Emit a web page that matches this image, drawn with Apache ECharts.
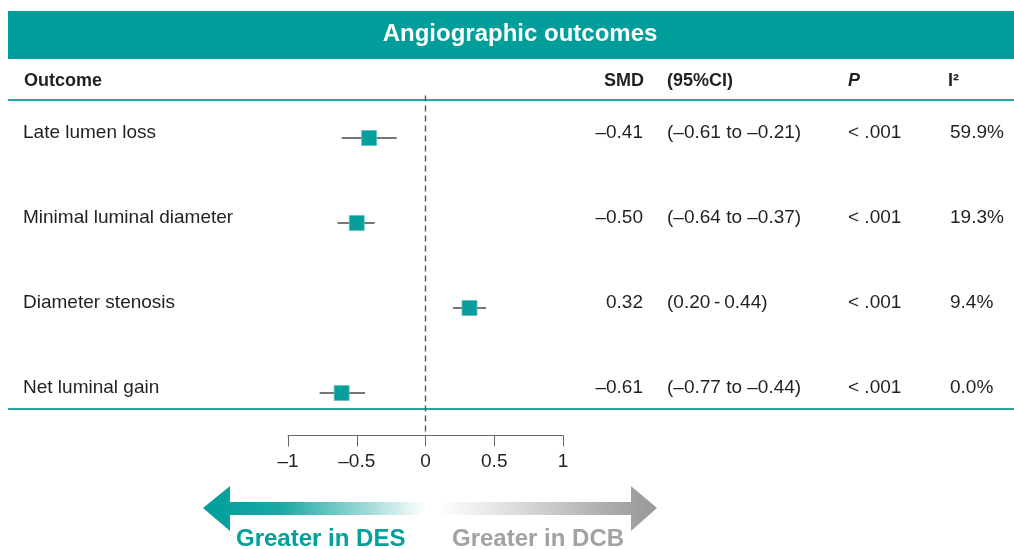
<!DOCTYPE html>
<html>
<head>
<meta charset="utf-8">
<script src="https://cdn.jsdelivr.net/npm/echarts@6/dist/echarts.min.js"></script>
<style>
  html, body { margin: 0; padding: 0; background: #fff; }
  #chart { width: 1014px; height: 549px; }
</style>
</head>
<body>
<div id="chart"></div>
<script>
// data
var outcomes = ['Late lumen loss', 'Minimal luminal diameter', 'Diameter stenosis', 'Net luminal gain'];
var smd = [-0.41, -0.50, 0.32, -0.61];
var ciLow = [-0.61, -0.64, 0.20, -0.77];
var ciHigh = [-0.21, -0.37, 0.44, -0.44];
var pValues = ['< .001', '< .001', '< .001', '< .001'];
var iSquared = ['59.9%', '19.3%', '9.4%', '0.0%'];

var TEAL = '#009e9a';
var FONT = '"Liberation Sans", Arial, Helvetica, sans-serif';

// en dash for negatives, like the printed table
var fmt = function(v, d){
	var s = Math.abs(v).toFixed(d);
	return v < 0 ? '\u2013' + s : s;
};
var ciText = function(i){
	if( ciLow[i] < 0 ){
		return '(' + fmt(ciLow[i], 2) + ' to ' + fmt(ciHigh[i], 2) + ')';
	}
	return '(' + fmt(ciLow[i], 2) + '\u2009-\u2009' + fmt(ciHigh[i], 2) + ')';
};

var chart = echarts.init(document.getElementById('chart'), null, {renderer: 'canvas'});

var txt = function(x, y, text, align, font, fill){
	return {type: 'text', x: x, y: y, style: {text: text, align: align, verticalAlign: 'middle', font: font, fill: fill || '#231f20'}};
};

var option = {
	backgroundColor: '#fff',
	animation: false,
	grid: {left: 288, right: 451, top: 95.5, height: 340},
	xAxis: {
		type: 'value', min: -1, max: 1, interval: 0.5,
		splitLine: {show: false},
		axisLine: {show: true, onZero: false, lineStyle: {color: '#666', width: 1}},
		axisTick: {show: true, length: 11, lineStyle: {color: '#666', width: 1}},
		axisLabel: {
			margin: 17, color: '#231f20', fontSize: 19, fontFamily: FONT,
			formatter: function(v){ return v === 0 ? '0' : fmt(v, Math.abs(v) === 1 ? 0 : 1); }
		}
	},
	yAxis: {type: 'category', inverse: true, data: outcomes, show: false},
	graphic: [
		{type: 'rect', shape: {x: 8, y: 11, width: 1006, height: 48}, style: {fill: TEAL}},
		txt(520, 34, 'Angiographic outcomes', 'center', 'bold 24px ' + FONT, '#fff'),
		txt(24, 81, 'Outcome', 'left', 'bold 18px ' + FONT),
		txt(644, 81, 'SMD', 'right', 'bold 18px ' + FONT),
		txt(667, 81, '(95%CI)', 'left', 'bold 18px ' + FONT),
		txt(848, 81, 'P', 'left', 'italic bold 18px ' + FONT),
		txt(948, 81, 'I\u00b2', 'left', 'bold 18px ' + FONT),
		{type: 'line', shape: {x1: 8, y1: 100, x2: 1014, y2: 100}, style: {stroke: '#2aa5a2', lineWidth: 2}},
		{type: 'line', shape: {x1: 8, y1: 409, x2: 1014, y2: 409}, style: {stroke: '#2aa5a2', lineWidth: 2}},
		//左箭头
		{type: 'polygon', shape: {points: [[203, 508], [230, 486], [230, 502], [425, 502], [425, 515], [230, 515], [230, 531]]},
			style: {fill: {type: 'linear', x: 0, y: 0, x2: 1, y2: 0, colorStops: [
				{offset: 0, color: '#009e9a'}, {offset: 0.35, color: '#1aa9a5'},
				{offset: 0.75, color: '#a4dbd9'}, {offset: 1, color: '#ffffff'}]}}},
		//右箭头
		{type: 'polygon', shape: {points: [[438, 502], [631, 502], [631, 486], [657, 508], [631, 531], [631, 515], [438, 515]]},
			style: {fill: {type: 'linear', x: 0, y: 0, x2: 1, y2: 0, colorStops: [
				{offset: 0, color: '#ffffff'}, {offset: 0.3, color: '#e2e2e3'},
				{offset: 0.8, color: '#a9a9ab'}, {offset: 1, color: '#98989a'}]}}},
		txt(236, 539, 'Greater in DES', 'left', 'bold 24px ' + FONT, '#00a09c'),
		txt(452, 539, 'Greater in DCB', 'left', 'bold 24px ' + FONT, '#a2a2a4')
	],
	series: [
		{
			// 置信区间
			type: 'custom',
			data: outcomes.map(function(o, i){ return [ciLow[i], ciHigh[i], i]; }),
			encode: {x: [0, 1], y: 2},
			renderItem: function(params, api){
				var a = api.coord([api.value(0), api.value(2)]);
				var b = api.coord([api.value(1), api.value(2)]);
				return {type: 'line', shape: {x1: a[0], y1: a[1], x2: b[0], y2: b[1]},
					style: {stroke: '#4a4a4a', lineWidth: 1.6}};
			},
			z: 2
		},
		{
			type: 'scatter',
			symbol: 'rect',
			symbolSize: 15,
			data: outcomes.map(function(o, i){ return [smd[i], i]; }),
			itemStyle: {color: '#079e9b', borderColor: '#5cc4c1', borderWidth: 0.8, opacity: 1},
			markLine: {
				silent: true, symbol: 'none', label: {show: false},
				lineStyle: {color: '#555', type: [6, 4], width: 1.4},
				data: [{xAxis: 0}]
			},
			z: 3
		},
		{
			// 表格文字
			type: 'custom',
			clip: false,
			data: outcomes.map(function(o, i){ return [smd[i], i]; }),
			encode: {x: 0, y: 1},
			renderItem: function(params, api){
				var i = params.dataIndex;
				var y = api.coord([0, api.value(1)])[1] - 5;
				var f = '19px ' + FONT;
				return {type: 'group', children: [
					txt(23, y, outcomes[i], 'left', f),
					txt(643, y, fmt(smd[i], 2), 'right', f),
					txt(667, y, ciText(i), 'left', f),
					txt(848, y, pValues[i], 'left', f),
					txt(950, y, iSquared[i], 'left', f)
				]};
			},
			z: 4
		}
	]
};

chart.setOption(option);
</script>
</body>
</html>
